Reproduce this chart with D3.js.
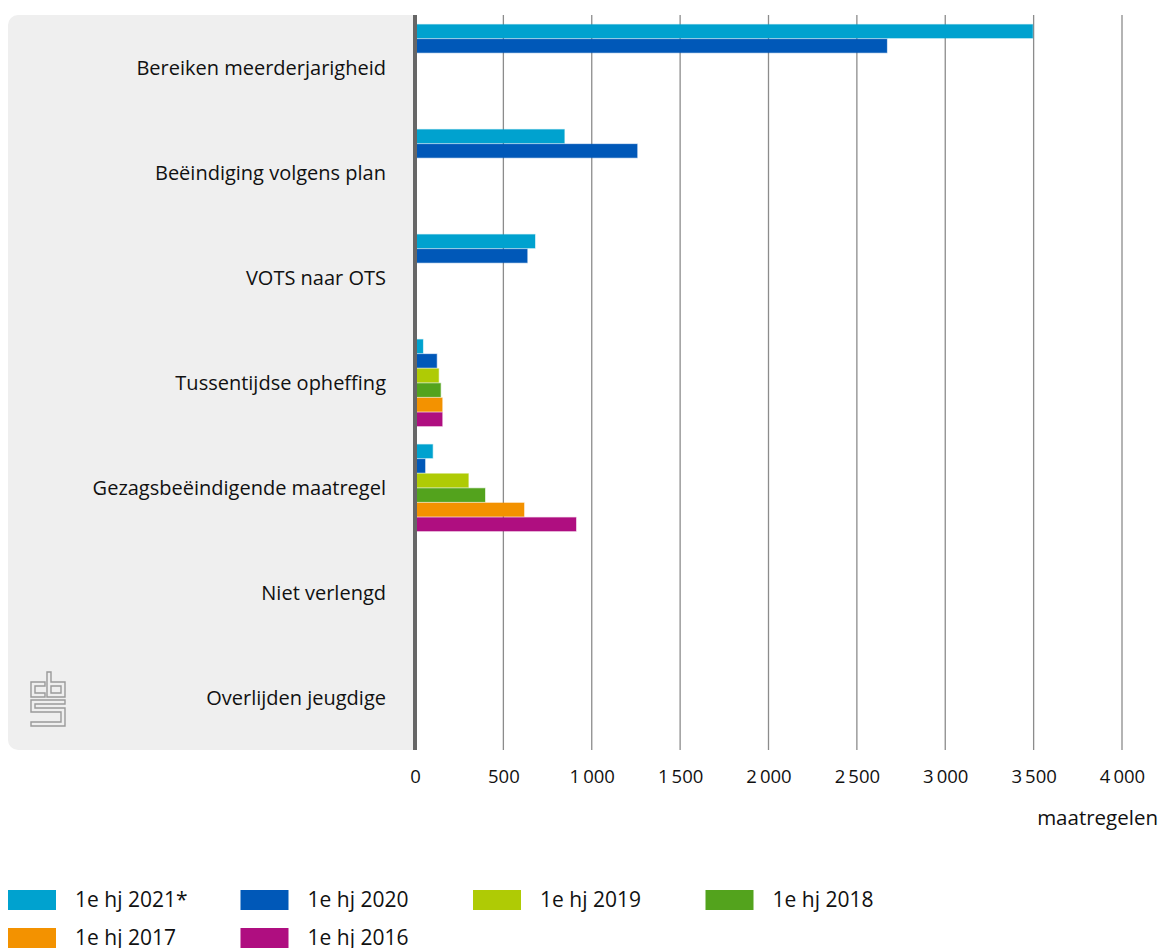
<!DOCTYPE html>
<html>
<head>
<meta charset="utf-8">
<script src="https://cdn.jsdelivr.net/npm/d3@7"></script>
<style>
body{margin:0;background:#fff;font-family:"Open Sans",Roboto,sans-serif;}
</style>
</head>
<body>
<div id="chart"></div>
<script>
// categories (top to bottom)
var categories = ["Bereiken meerderjarigheid","Beëindiging volgens plan","VOTS naar OTS",
  "Tussentijdse opheffing","Gezagsbeëindigende maatregel","Niet verlengd","Overlijden jeugdige"];
var series = ["1e hj 2021*","1e hj 2020","1e hj 2019","1e hj 2018","1e hj 2017","1e hj 2016"];
var colors = ["#00a2cf","#0058b8","#afcb05","#53a31d","#f39200","#af0e80"];

// values per series, same order as categories (null = no bar)
var v2021 = [3495, 845, 679, 45, 100, 0, 0];
var v2020 = [2670, 1257, 635, 123, 57, 6, 0];
var v2019 = [null, null, null, 134, 302, null, null];
var v2018 = [null, null, null, 145, 396, null, null];
var v2017 = [null, null, null, 154, 617, null, null];
var v2016 = [null, null, null, 154, 911, null, null];
var values = [v2021, v2020, v2019, v2018, v2017, v2016];

var xTicks = [0,500,1000,1500,2000,2500,3000,3500,4000];

var W = 1163, H = 948;
var svg = d3.select("#chart").append("svg")
  .attr("width", W).attr("height", H);

var plotTop = 15, plotBottom = 750;
var x = d3.scaleLinear().domain([0,4000]).range([415,1122]);
var y = d3.scaleBand().domain(categories).range([plotTop,plotBottom]);
var ys = d3.scaleBand().domain(series).range([9, 9 + 6*14.6]);

// grey label panel
svg.append("rect")
  .attr("x",8).attr("y",plotTop).attr("width",420).attr("height",plotBottom-plotTop)
  .attr("rx",10).attr("ry",10)
  .style("fill","#efefef");
svg.append("rect")
  .attr("x",415).attr("y",plotTop-1).attr("width",20).attr("height",plotBottom-plotTop+2)
  .style("fill","#fff");

// gridlines
svg.selectAll("line.grid")
  .data(xTicks.slice(1))
  .enter().append("line")
  .attr("class","grid")
  .attr("x1",function(d){return x(d);}).attr("x2",function(d){return x(d);})
  .attr("y1",plotTop).attr("y2",plotBottom)
  .style("stroke","#8c8c8c").style("stroke-width",1.3);

var xAxis = d3.axisBottom(x)
  .tickValues(xTicks)
  .tickSize(0)
  .tickFormat(function(d){return d3.format(",")(d).replace(/,/g,"\u2006");});

var gx = svg.append("g")
  .attr("transform","translate(0," + plotBottom + ")")
  .call(xAxis);
gx.select(".domain").remove();
gx.selectAll("text")
  .style("font-family","'Open Sans', sans-serif")
  .style("font-size","18.5px")
  .style("fill","#111")
  .attr("dy","0.71em")
  .attr("y",20);

svg.append("text")
  .attr("x",1158).attr("y",825)
  .attr("text-anchor","end")
  .style("font-size","20.5px").style("fill","#111")
  .text("maatregelen");

// bars
var barData = [];
categories.forEach(function(c,i){
  series.forEach(function(s,j){
    if(values[j][i] != null) barData.push({cat:c, ser:s, val:values[j][i], col:colors[j]});
  });
});

svg.selectAll("rect.bar")
  .data(barData)
  .enter().append("rect")
  .attr("class","bar")
  .attr("x",x(0)+1)
  .attr("y",function(d){return y(d.cat)+ys(d.ser)+0.5;})
  .attr("width",function(d){return Math.max(0,x(d.val)-x(0)-1);})
  .attr("height",ys.bandwidth()-1)
  .style("fill",function(d){return d.col;})
  .style("stroke",function(d){return d.col;})
  .style("stroke-opacity",0.35)
  .style("stroke-width",1.2);

// vertical axis line
svg.append("line")
  .attr("x1",x(0)).attr("x2",x(0))
  .attr("y1",plotTop).attr("y2",plotBottom)
  .style("stroke","#666").style("stroke-width",4);

// category labels
svg.selectAll("text.cat")
  .data(categories)
  .enter().append("text")
  .attr("class","cat")
  .attr("x",386)
  .attr("y",function(d){return y(d)+y.bandwidth()/2 + 7;})
  .attr("text-anchor","end")
  .style("font-size","20px").style("fill","#111")
  .text(function(d){return d;});

// cbs logo (rough)
var logo = svg.append("g")
  .attr("transform","translate(30,672)")
  .style("fill","none").style("stroke","#9a9a9a").style("stroke-width",1.4);
logo.append("path").attr("d","M1 10 H15 V14 H5 V21 H15 V25 H1 Z");
logo.append("path").attr("d","M17 25 V0 H21 V10 H35 V25 Z M21 14 V21 H31 V14 Z");
logo.append("path").attr("d","M1 28 H35 V32 H5 V36 H35 V54 H1 V50 H31 V40 H1 Z");

// legend
var legend = svg.selectAll("g.leg")
  .data(series)
  .enter().append("g")
  .attr("class","leg")
  .attr("transform",function(d,i){
    return "translate(" + (8 + (i%4)*232.5) + "," + (890 + Math.floor(i/4)*38) + ")";
  });
legend.append("rect")
  .attr("width",48).attr("height",20)
  .style("fill",function(d,i){return colors[i];});
legend.append("text")
  .attr("x",67).attr("y",17)
  .style("font-size","21px").style("fill","#111")
  .text(function(d){return d;});
</script>
</body>
</html>
